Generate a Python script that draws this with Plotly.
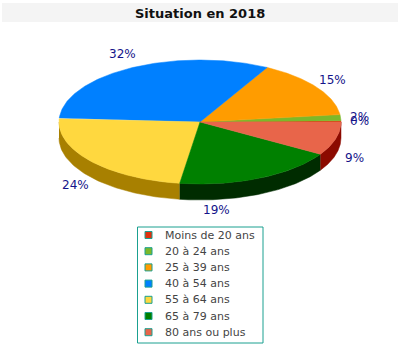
import numpy as np
import plotly.graph_objects as go

# ---- data ----
categories = ["Moins de 20 ans", "20 à 24 ans", "25 à 39 ans", "40 à 54 ans",
              "55 à 64 ans", "65 à 79 ans", "80 ans ou plus"]
values = [0.3, 1.6, 15.2, 31.9, 23.7, 18.6, 8.7]
title_text = "Situation en 2018"

# ---- style ----
top_colors = ["#e0300e", "#7cb82a", "#ff9c00", "#0080ff", "#ffd83f", "#008000", "#e8654a"]
side_colors = ["#8a1a00", "#4a7010", "#a86400", "#0050a0", "#a88000", "#002c00", "#8c0a00"]
label_color = "#14148a"
CX, CY, RX, RY, DEPTH = 200, 122, 141, 62, 16
LRX, LRY = 160, 74
label_nudge = {3: (0, -3), 5: (-52, 5)}  # pixel shifts of individual labels

fig = go.Figure()

total = sum(values)
fracs = [v / total for v in values]
starts = np.cumsum([0] + fracs[:-1]) * 360.0
ends = starts + np.array(fracs) * 360.0


def ex(t):
    return CX + RX * np.cos(np.radians(t))


def ey(t):
    return CY - RY * np.sin(np.radians(t))


# side walls (front half: 180..360 deg)
for i, (a0, a1) in enumerate(zip(starts, ends)):
    s0, s1 = max(a0, 180.0), min(a1, 360.0)
    if s1 <= s0:
        continue
    t = np.linspace(s0, s1, 80)
    xs = np.concatenate([ex(t), ex(t[::-1])])
    ys = np.concatenate([ey(t), ey(t[::-1]) + DEPTH])
    fig.add_trace(go.Scatter(x=xs, y=ys, fill="toself", mode="lines",
                             fillcolor=side_colors[i],
                             line=dict(color=side_colors[i], width=0.5),
                             hoverinfo="skip", showlegend=False))

# top faces
for i, (a0, a1) in enumerate(zip(starts, ends)):
    n = max(4, int((a1 - a0) * 1.5))
    t = np.linspace(a0, a1, n)
    xs = np.concatenate([[CX], ex(t), [CX]])
    ys = np.concatenate([[CY], ey(t), [CY]])
    fig.add_trace(go.Scatter(x=xs, y=ys, fill="toself", mode="lines",
                             fillcolor=top_colors[i],
                             line=dict(color=top_colors[i], width=0.5),
                             name=categories[i], hoverinfo="name",
                             showlegend=False))

# percentage labels
for i, (a0, a1) in enumerate(zip(starts, ends)):
    m = np.radians((a0 + a1) / 2)
    lx = CX + LRX * np.cos(m)
    ly = CY - LRY * np.sin(m) + (DEPTH if np.sin(m) < 0 else 0)
    dx, dy = label_nudge.get(i, (0, 0))
    fig.add_annotation(x=lx + dx, y=ly + dy, text=f"{round(fracs[i] * 100)}%",
                       showarrow=False, xanchor="center", yanchor="middle",
                       font=dict(family="DejaVu Sans", size=12, color=label_color))

# title band
fig.add_shape(type="rect", x0=2, x1=398, y0=3, y1=22, fillcolor="#f4f4f4",
              line=dict(width=0), layer="below")
fig.add_annotation(x=200, y=13, text=f"<b>{title_text}</b>", showarrow=False,
                   font=dict(family="DejaVu Sans", size=13, color="#111111"))

# legend box
LX0, LX1, LY0, LY1 = 137.5, 263, 227, 343
LEG_Y0, LEG_STEP = 235, 16.2
fig.add_shape(type="rect", x0=LX0, x1=LX1, y0=LY0, y1=LY1,
              fillcolor="white", line=dict(color="#1aa090", width=1),
              layer="below")
leg_y = [LEG_Y0 + k * LEG_STEP for k in range(len(categories))]
fig.add_trace(go.Scatter(x=[148.5] * len(categories), y=leg_y, mode="markers",
                         marker=dict(symbol="square", size=7, color=top_colors,
                                     line=dict(color="#1aa090", width=1)),
                         hoverinfo="skip", showlegend=False))
for k, name in enumerate(categories):
    fig.add_annotation(x=163, y=leg_y[k], text=name, showarrow=False,
                       xanchor="left", yanchor="middle",
                       font=dict(family="DejaVu Sans", size=11, color="#444444"))

fig.update_layout(
    width=400, height=350, margin=dict(l=0, r=0, t=0, b=0),
    paper_bgcolor="white", plot_bgcolor="white",
    xaxis=dict(range=[0, 400], visible=False, fixedrange=True),
    yaxis=dict(range=[350, 0], visible=False, fixedrange=True),
    showlegend=False,
)

fig.write_html("out.html")
